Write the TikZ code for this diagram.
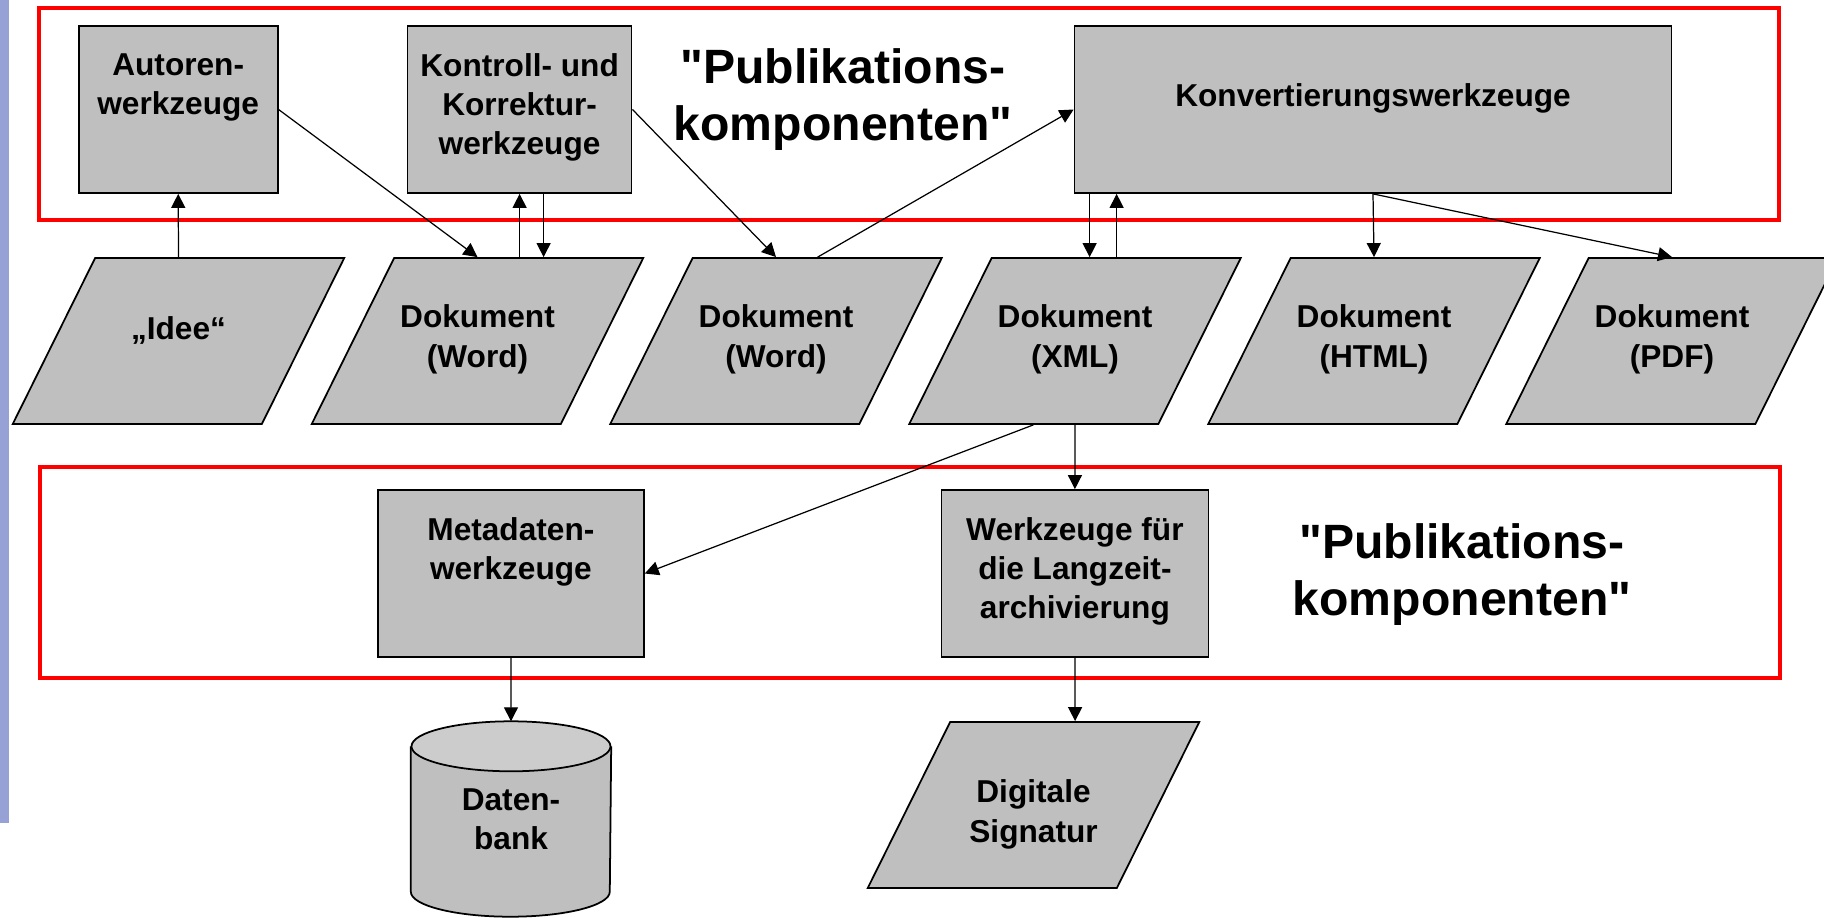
\documentclass[tikz,border=0pt]{standalone}
\usepackage{fontspec}
\setmainfont{Liberation Sans}
\usetikzlibrary{arrows.meta,shapes.geometric,backgrounds}
\definecolor{boxgray}{gray}{0.75}
\definecolor{endgray}{gray}{0.8}
\definecolor{barblue}{RGB}{151,161,214}
\newcommand{\nodefont}{\fontsize{9pt}{11.1pt}\selectfont\bfseries}
\newcommand{\titlefont}{\fontsize{13.7pt}{16.2pt}\selectfont\bfseries}
\tikzset{
	tool/.style = {draw,fill=boxgray,line width=0.5pt,minimum height=1.67cm,inner sep=0pt},
	toolname/.style = {anchor=north,align=center,font=\nodefont,yshift=-1.65mm},
	doc/.style = {draw,fill=boxgray,line width=0.5pt,shape=trapezium,trapezium left angle=63.6,trapezium right angle=116.4,
		trapezium stretches body,minimum width=3.315cm,inner sep=0pt,text height=1.09cm,text depth=0.57cm,
		align=center,font=\nodefont},
	store/.style = {minimum width=1.99cm,minimum height=1.94cm,inner sep=0pt,align=center,font=\nodefont},
	flow/.style = {-{Triangle[length=1.4mm,width=1.4mm]},line width=0.35pt},
	component/.style = {draw=red,line width=1pt},
	heading/.style = {align=center,font=\titlefont}
}

\begin{document}
\begin{tikzpicture}
		\useasboundingbox (0,0) rectangle (18.24,9.17);
		\fill[barblue] (0,9.17) rectangle (0.09,0.94);
	
		% die beiden Komponentenrahmen
		\draw[component] (0.39,9.09) rectangle (17.79,6.97);
		\draw[component] (0.40,4.50) rectangle (17.80,2.39);
		\node[heading] (komptop) at (8.43,8.17) {\textquotedbl Publikations-\\komponenten\textquotedbl};
		\node[heading] (kompbot) at (14.62,3.42) {\textquotedbl Publikations-\\komponenten\textquotedbl};
	
		% Werkzeuge oben
		\node[tool,minimum width=1.99cm,label={[toolname]north:Autoren-\\werkzeuge}] (autor) at (1.782,8.075) {};
		\node[tool,minimum width=2.24cm,label={[toolname]north:Kontroll- und\\Korrektur-\\werkzeuge}] (kontr) at (5.196,8.075) {};
		\node[tool,minimum width=5.97cm,label={[toolname,yshift=-3mm]north:Konvertierungswerkzeuge}] (konv) at (13.73,8.075) {};
	
		% Dokumente
		\node[doc,text height=0.81cm,text depth=0.85cm] (idee) at (1.785,5.76) {„Idee“};
		\node[doc] (dok1) at (4.775,5.76) {Dokument\\(Word)};
		\node[doc] (dok2) at (7.76,5.76) {Dokument\\(Word)};
		\node[doc] (xml) at (10.75,5.76) {Dokument\\(XML)};
		\node[doc] (html) at (13.74,5.76) {Dokument\\(HTML)};
		\node[doc] (pdf) at (16.72,5.76) {Dokument\\(PDF)};
	
		% Werkzeuge unten
		\node[tool,minimum width=2.66cm,label={[toolname]north:Metadaten-\\werkzeuge}] (meta) at (5.109,3.435) {};
		\node[tool,minimum width=2.67cm,label={[toolname]north:Werkzeuge für\\die Langzeit-\\archivierung}] (werk) at (10.749,3.435) {};
		\node[store] (db) at (5.11,0.98) {Daten-\\bank};
		\node[doc,text height=1.20cm,text depth=0.46cm] (sig) at (10.335,1.12) {Digitale\\Signatur};
	
		% Zylinder hinter dem Text
		\begin{pgfonlayer}{background}
			\draw[fill=boxgray,line width=0.5pt] ([yshift=-2.5mm]db.north west) -- ([yshift=2.5mm]db.south west)
				arc[start angle=180,end angle=360,x radius=0.995cm,y radius=2.5mm] -- ([yshift=-2.5mm]db.north east);
			\draw[fill=endgray,line width=0.5pt] ([yshift=-2.5mm]db.north) ellipse[x radius=0.995cm,y radius=2.5mm];
		\end{pgfonlayer}
	
		\draw[flow] (idee.north) -- (autor.south);
		\draw[flow] (autor.east) -- (dok1.north);
		\draw[flow] (kontr.south |- dok1.north) -- (kontr.south);
		\draw[flow] ([xshift=2.4mm]kontr.south) -- ([xshift=2.4mm]kontr.south |- dok1.north);
		\draw[flow] (kontr.east) -- (dok2.north);
		\draw[flow] (dok2.top side) -- (konv.west);
		\draw[flow] ([xshift=-2.7mm]xml.top side |- konv.south) -- ([xshift=-2.7mm]xml.top side);
		\draw[flow] (xml.top side) -- (xml.top side |- konv.south);
		\draw[flow] (konv.south) -- (html.north);
		\draw[flow] (konv.south) -- (pdf.north);
		\draw[flow] (xml.bottom side) -- (meta.east);
		\draw[flow] (xml.south) -- (werk.north);
		\draw[flow] (meta.south) -- (db.north);
		\draw[flow] (werk.south) -- (sig.top side);
	\end{tikzpicture}
\end{document}
